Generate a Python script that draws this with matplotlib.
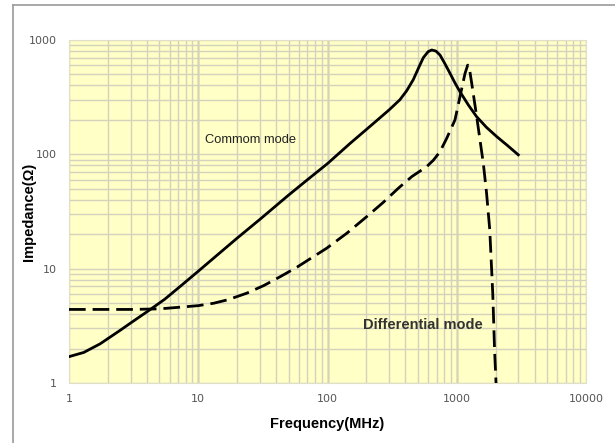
import matplotlib.pyplot as plt
import numpy as np
from matplotlib.lines import Line2D
from matplotlib.ticker import LogLocator, NullFormatter, FixedLocator

# common mode impedance (solid curve)
cm_freq = [1, 1.3, 1.74, 2.5, 3.0, 4.2, 5.5, 7.2, 10, 20, 30, 50, 70, 100, 150, 200, 250, 300, 363, 410, 461,
           510, 551, 600, 640, 690, 742, 810, 887, 970, 1059, 1230, 1427, 1700, 2037, 2500, 2994]
cm_imp = [1.7, 1.85, 2.2, 2.9, 3.35, 4.35, 5.4, 6.95, 9.5, 18.5, 27, 44, 60, 83, 125, 165, 205, 245, 300, 360, 450,
          580, 700, 790, 818, 800, 739, 620, 511, 420, 353, 270, 213, 172, 143, 118, 99]

# differential mode impedance (dashed curve)
dm_freq = [1, 3, 5, 7.2, 10, 13.1, 17, 23.7, 32, 43, 58, 77.6, 98.6, 141, 201, 270, 353, 450, 585, 660, 740, 836,
           969, 1059, 1159, 1216, 1260, 1306, 1427, 1606, 1700, 1800, 1900, 1960, 2013]
dm_imp = [4.4, 4.4, 4.45, 4.6, 4.75, 4.98, 5.35, 6.1, 7.1, 8.5, 10.3, 12.7, 15.1, 20.4, 28.5, 38, 50.5, 64, 78, 89, 105, 138,
          200, 319, 511, 603, 540, 417, 213, 83, 46, 22, 6, 2, 1.0]

x_ticks = [1, 10, 100, 1000, 10000]
y_ticks = [1, 10, 100, 1000]

fig = plt.figure(figsize=(6.15, 4.43), dpi=100)
ax = fig.add_axes([69 / 615, 1 - 383 / 443, (586 - 69) / 615, (383 - 40) / 443])
ax.set_facecolor('#ffffc6')

ax.set_xscale('log')
ax.set_yscale('log')
ax.set_xlim(1, 10000)
ax.set_ylim(1, 1000)

ax.xaxis.set_minor_locator(LogLocator(base=10, subs=np.arange(2, 10)))
ax.yaxis.set_minor_locator(LogLocator(base=10, subs=np.arange(2, 10)))
ax.xaxis.set_minor_formatter(NullFormatter())
ax.yaxis.set_minor_formatter(NullFormatter())
ax.xaxis.set_major_locator(FixedLocator(x_ticks))
ax.yaxis.set_major_locator(FixedLocator(y_ticks))
ax.set_xticklabels([str(t) for t in x_ticks])
ax.set_yticklabels([str(t) for t in y_ticks])

ax.grid(True, which='both', color='#d4d2bc', linewidth=1.0)
for f in [10, 100, 1000]:
    ax.axvline(f, color='#555555', linewidth=0.9, zorder=1.5)

for s in ax.spines.values():
    s.set_color('#e0e0c8')
    s.set_linewidth(0.8)
ax.tick_params(which='both', length=0, colors='#555555', labelsize=8)
ax.tick_params(axis='y', pad=9)
ax.tick_params(axis='x', pad=8)

ax.plot(cm_freq, cm_imp, color='black', linewidth=2.0, zorder=3)
ax.plot(dm_freq, dm_imp, color='black', linewidth=2.0, dashes=(6, 2.5), zorder=3)

ax.text(11.3, 133, 'Commom mode', fontsize=9.3, family='Liberation Sans', color='#222222', va='center')
ax.text(188, 3.22, 'Differential mode', fontsize=10.5, family='Liberation Sans',
        fontweight='bold', color='#333333', va='center')

ax.set_xlabel('Frequency(MHz)', fontsize=10.5, fontweight='bold', family='Liberation Sans')
ax.set_ylabel('Impedance(Ω)', fontsize=10.5, fontweight='bold', family='Liberation Sans')
ax.xaxis.set_label_coords(0.5, (383 - 417) / 343)
ax.yaxis.set_label_coords((36 - 69) / 517, 0.5)

# thin frame on the left and top of the picture
fig.add_artist(Line2D([13 / 615, 13 / 615], [0, 1 - 5 / 443], color='#999999', linewidth=1.2))
fig.add_artist(Line2D([13 / 615, 1], [1 - 5 / 443, 1 - 5 / 443], color='#999999', linewidth=1.2))

fig.savefig('out.png', dpi=100)
